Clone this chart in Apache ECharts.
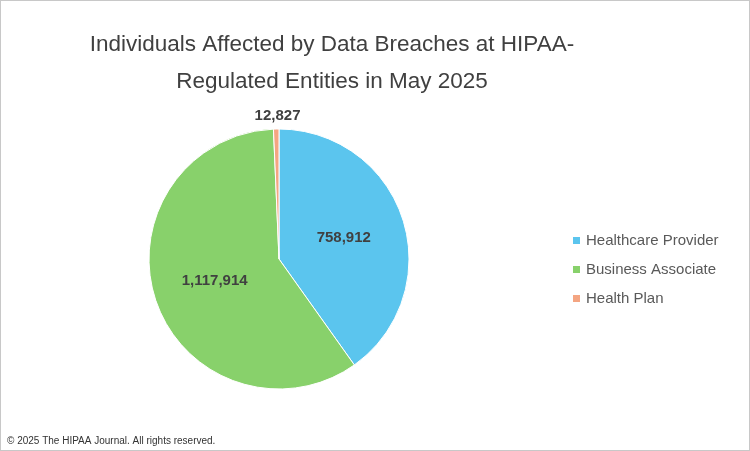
<!DOCTYPE html>
<html><head><meta charset="utf-8">
<script src="https://cdn.jsdelivr.net/npm/echarts@6/dist/echarts.min.js"></script>
<style>html,body{margin:0;padding:0;background:#fff}#c{width:748px;height:449px;border:1px solid #c8c8c8}</style>
</head><body><div id="c"></div>
<script>
const categories = ["Healthcare Provider", "Business Associate", "Health Plan"];
const values = [758912, 1117914, 12827];
const colors = ["#5BC5EE", "#88D16B", "#F4A582"];
const titleText = "Individuals Affected by Data Breaches at HIPAA-\nRegulated Entities in May 2025";
const footer = "© 2025 The HIPAA Journal. All rights reserved.";

const chart = echarts.init(document.getElementById('c'));
chart.setOption({
  animation: false,
  title: {text: titleText, left: 326, top: 20, textAlign: 'center',
    textStyle: {fontFamily: 'Liberation Sans, Arial', fontWeight: 'normal', fontSize: 22.5, color: '#404040', lineHeight: 37}},
  legend: {orient: 'vertical', left: 565, top: 227, itemGap: 14, itemWidth: 9, itemHeight: 9, icon: 'rect',
    textStyle: {fontFamily: 'Liberation Sans, Arial', fontSize: 15, color: '#595959'}, data: categories},
  graphic: [{type: 'text', left: 6, bottom: 4, style: {text: footer, fontSize: 10, fill: '#333', fontFamily: 'Liberation Sans, Arial'}}],
  series: [{
    type: 'pie', center: [278, 258], radius: [0, 130], startAngle: 90, clockwise: true,
    data: categories.map((c, i) => ({name: c, value: values[i], itemStyle: {color: colors[i]},
      label: i === 2 ? {position: 'inside', offset: [0, -75]} : {position: 'inside'},
      labelLine: {show: false}})),
    label: {formatter: p => p.value.toLocaleString('en-US'), fontFamily: 'Liberation Sans, Arial', fontWeight: 'bold', fontSize: 15, color: '#404040'},
    itemStyle: {borderColor: '#fff', borderWidth: 1}
  }]
});
</script></body></html>
